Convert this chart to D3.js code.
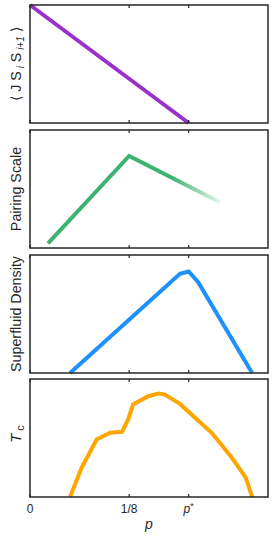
<!DOCTYPE html>
<html>
<head>
<meta charset="utf-8">
<script src="https://cdn.jsdelivr.net/npm/d3@7"></script>
<style>
	body { margin: 0; background: #fff; }
	text { font-family: "Liberation Sans", Arial, sans-serif; fill: #262626; }
</style>
</head>
<body>
<div id="chart-area"></div>
<script>

// data (y values normalised to each panel's height)
let spinP = [0, 0.2];
let spinY = [1, 0];

let pairP = [0.0227, 0.125, 0.24];
let pairY = [0.04, 0.78, 0.385];

let sfP = [0.0505, 0.189, 0.2, 0.212, 0.28];
let sfY = [0, 0.84, 0.86, 0.77, 0];

let tcP = [0.0505, 0.065, 0.084, 0.101, 0.116, 0.124, 0.130, 0.149, 0.162, 0.170, 0.189, 0.229, 0.253, 0.272, 0.280];
let tcY = [0, 0.248, 0.487, 0.544, 0.552, 0.662, 0.784, 0.854, 0.876, 0.868, 0.789, 0.544, 0.346, 0.164, 0];

let tickValues = [0, 0.125, 0.2];
let tickLabels = ["0", "1/8", "p*"];

let panels = [
	{p: spinP, y: spinY, color: "#9932cc", label: "spin"},
	{p: pairP, y: pairY, color: "#3cb371", label: "Pairing Scale", fade: true},
	{p: sfP, y: sfY, color: "#1e90ff", label: "Superfluid Density"},
	{p: tcP, y: tcY, color: "#ffa500", label: "tc"}
];

let margin = {left: 30, right: 5};
let width = 273 - margin.left - margin.right;
let panelTops = [5, 130, 255, 379];
let panelHeight = 118;

let svg = d3.select("#chart-area").append("svg")
	.attr("width", 273)
	.attr("height", 538);

let defs = svg.append("defs");

let xscale = d3.scaleLinear().domain([0, 0.3]).range([0, width]);

panels.forEach((pn, i) => {
	let g = svg.append("g")
		.attr("transform", "translate(" + margin.left + "," + panelTops[i] + ")");

	let yscale = d3.scaleLinear().domain([0, 1]).range([panelHeight, 0]);

	let data = pn.p.map((d, j) => ({p: d, y: pn.y[j]}));

	let stroke = pn.color;
	if (pn.fade) {
		// line fades out towards its end
		let grad = defs.append("linearGradient")
			.attr("id", "fade" + i)
			.attr("gradientUnits", "userSpaceOnUse")
			.attr("x1", xscale(0.18)).attr("x2", xscale(0.24))
			.attr("y1", 0).attr("y2", 0);
		grad.append("stop").attr("offset", 0).attr("stop-color", pn.color).attr("stop-opacity", 1);
		grad.append("stop").attr("offset", 1).attr("stop-color", pn.color).attr("stop-opacity", 0.12);
		stroke = "url(#fade" + i + ")";
	}

	g.append("path")
		.datum(data)
		.attr("fill", "none")
		.attr("stroke", stroke)
		.attr("stroke-width", 4)
		.attr("stroke-linejoin", "miter")
		.attr("d", d3.line().x(d => xscale(d.p)).y(d => yscale(d.y)));

	// box frame
	g.append("rect")
		.attr("width", width)
		.attr("height", panelHeight)
		.attr("fill", "none")
		.attr("stroke", "#262626")
		.attr("stroke-width", 1.5);

	// inward ticks on top and bottom
	tickValues.forEach(t => {
		g.append("line")
			.attr("x1", xscale(t)).attr("x2", xscale(t))
			.attr("y1", panelHeight).attr("y2", panelHeight - 3)
			.attr("stroke", "#262626").attr("stroke-width", 1.2);
		g.append("line")
			.attr("x1", xscale(t)).attr("x2", xscale(t))
			.attr("y1", 0).attr("y2", 3)
			.attr("stroke", "#262626").attr("stroke-width", 1.2);
	});

	// y axis label
	let lab = g.append("text")
		.attr("transform", "translate(-9," + (panelHeight / 2) + ") rotate(-90)")
		.style("text-anchor", "middle")
		.style("font-size", "14.3px");

	if (pn.label === "spin") {
		lab.append("tspan").text("\u27E8 J S");
		lab.append("tspan").attr("font-style", "italic").attr("font-size", "10px").attr("dy", 3).text(" i");
		lab.append("tspan").attr("dy", -3).text(" S");
		lab.append("tspan").attr("font-style", "italic").attr("font-size", "10px").attr("dy", 3).text(" i+1");
		lab.append("tspan").attr("dy", -3).text(" \u27E9");
	} else if (pn.label === "tc") {
		lab.attr("transform", "translate(-9," + (panelHeight / 2 - 4) + ") rotate(-90)");
		lab.append("tspan").attr("font-style", "italic").attr("font-size", "15px").text("T");
		lab.append("tspan").attr("font-size", "11px").attr("dy", 3).text(" c");
	} else {
		lab.text(pn.label);
	}

	// x tick labels on last panel
	if (i === panels.length - 1) {
		tickValues.forEach((t, k) => {
			let tl = g.append("text")
				.attr("x", xscale(t))
				.attr("y", panelHeight + 16)
				.style("text-anchor", "middle")
				.style("font-size", "12px");
			if (tickLabels[k] === "p*") {
				tl.append("tspan").attr("font-style", "italic").text("p");
				tl.append("tspan").attr("font-size", "9px").attr("dy", -4).text("*");
			} else {
				tl.text(tickLabels[k]);
			}
		});
		g.append("text")
			.attr("x", xscale(0.15))
			.attr("y", panelHeight + 32)
			.style("text-anchor", "middle")
			.style("font-size", "14px")
			.style("font-style", "italic")
			.text("p");
	}
});

</script>
</body>
</html>
